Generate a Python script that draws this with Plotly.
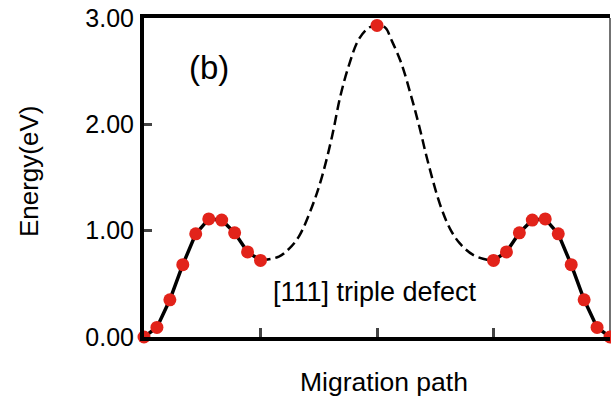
import plotly.graph_objects as go

# Left hop (solid, computed points)
left_x = [0.0, 0.111, 0.222, 0.333, 0.444, 0.556, 0.667, 0.778, 0.889, 1.0]
left_y = [0.00, 0.09, 0.35, 0.68, 0.97, 1.11, 1.10, 0.98, 0.80, 0.72]

# Right hop (solid, computed points)
right_x = [3.0, 3.111, 3.222, 3.333, 3.444, 3.556, 3.667, 3.778, 3.889, 4.0]
right_y = [0.72, 0.80, 0.98, 1.10, 1.11, 0.97, 0.68, 0.35, 0.09, 0.00]

# Middle barrier (dashed curve)
mid_x = [1.0, 1.158, 1.244, 1.329, 1.443, 1.528, 1.614, 1.685, 1.756, 1.842, 1.927, 2.0,
         2.073, 2.121, 2.207, 2.292, 2.363, 2.434, 2.540, 2.626, 2.711, 2.825, 2.953, 3.0]
mid_y = [0.72, 0.756, 0.829, 0.944, 1.227, 1.509, 1.886, 2.263, 2.545, 2.797, 2.907, 2.93,
         2.907, 2.80, 2.58, 2.27, 1.98, 1.66, 1.25, 1.02, 0.88, 0.772, 0.725, 0.72]

# Saddle point
peak_x = [2.0]
peak_y = [2.93]

y_ticks = [0, 1, 2, 3]
y_labels = ["0.00", "1.00", "2.00", "3.00"]
x_ticks = [1, 2, 3]

RED = "#E2231A"
FONT = "Liberation Sans, Arial, sans-serif"

fig = go.Figure()
fig.add_trace(go.Scatter(x=mid_x, y=mid_y, mode="lines",
                         line=dict(color="black", width=2.5, dash="10px,5px", shape="spline", smoothing=1.0),
                         hoverinfo="skip", cliponaxis=False))
for xs, ys in [(left_x, left_y), (right_x, right_y)]:
    fig.add_trace(go.Scatter(x=xs, y=ys, mode="lines+markers", line=dict(color="black", width=3.5),
                             marker=dict(color=RED, size=13), cliponaxis=False))
fig.add_trace(go.Scatter(x=peak_x, y=peak_y, mode="markers", marker=dict(color=RED, size=13), cliponaxis=False))

fig.update_layout(
    width=611, height=400,
    margin=dict(l=144, r=1, t=18, b=63),
    paper_bgcolor="white", plot_bgcolor="white",
    showlegend=False,
    font=dict(family=FONT, color="black"),
    xaxis=dict(range=[0, 4.0], tickvals=x_ticks, ticktext=["", "", ""], ticks="inside", ticklen=9, tickwidth=3,
               showline=True, linewidth=4, linecolor="black", mirror=True, showgrid=False, zeroline=False,
               automargin=False, fixedrange=True),
    yaxis=dict(range=[0, 3.0], tickvals=y_ticks, ticktext=y_labels, ticks="inside", ticklen=8, tickwidth=3,
               showline=True, linewidth=4, linecolor="black", showgrid=False, zeroline=False,
               tickfont=dict(size=25, family=FONT), ticklabelstandoff=1, automargin=False, fixedrange=True),
    annotations=[
        dict(text="(b)", x=0.56, y=2.53, xref="x", yref="y", showarrow=False, font=dict(size=33, family=FONT)),
        dict(text="[111] triple defect", x=1.98, y=0.42, xref="x", yref="y", showarrow=False,
             font=dict(size=27, family=FONT)),
        dict(text="Migration path", x=(384 - 144) / 466, y=-0.141, xref="paper", yref="paper", showarrow=False,
             yanchor="middle", font=dict(size=26.5, family=FONT)),
        dict(text="Energy(eV)", x=(29 - 144) / 466, y=0.52, xref="paper", yref="paper", showarrow=False,
             textangle=-90, xanchor="center", yanchor="middle", font=dict(size=26, family=FONT)),
    ],
    shapes=[dict(type="line", xref="paper", yref="paper", x0=1, x1=1, y0=0, y1=1, layer="below",
                 line=dict(color="#444", width=1.5))],
)

fig.write_html("out.html", config={"displayModeBar": False},
               post_script="document.body.style.margin='0';document.body.style.overflow='hidden';")
